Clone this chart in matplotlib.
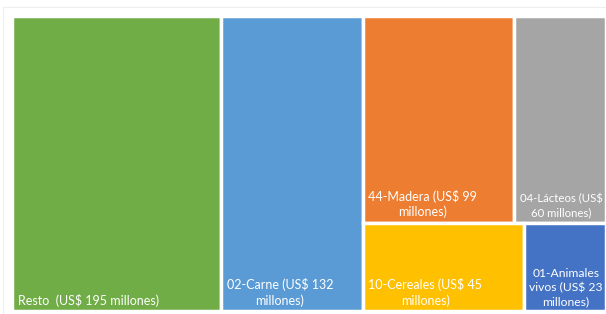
import matplotlib.pyplot as plt
from matplotlib.patches import Rectangle

# Datos del treemap (exportaciones, millones de US$)
etiquetas = [
    "Resto  (US$ 195 millones)",
    "02-Carne (US$ 132\nmillones)",
    "44-Madera (US$ 99\nmillones)",
    "04-Lácteos (US$\n60 millones)",
    "10-Cereales (US$ 45\nmillones)",
    "01-Animales\nvivos (US$ 23\nmillones)",
]
valores = [195, 132, 99, 60, 45, 23]
colores = ["#70AD47", "#5B9BD5", "#ED7D31", "#A5A5A5", "#FFC000", "#4472C4"]

plt.rcParams['font.family'] = ['Lato', 'DejaVu Sans']

fig = plt.figure(figsize=(6.06, 3.14), dpi=100)

# borde tenue del area del grafico
fig.add_artist(Rectangle((3 / 606, -0.1), 1.1, (307 + 31.4) / 314, transform=fig.transFigure,
                         fill=False, edgecolor='#EEEEEE', linewidth=0.8))

ax = fig.add_axes([12 / 606, 3 / 314, 1 - 12 / 606, 295 / 314])
ax.set_xlim(0, 1)
ax.set_ylim(0, 1)
ax.axis('off')

# Layout: dos columnas y luego una cuadricula 2x2 con el resto
total = sum(valores)
rects = []
x = 0
for v in valores[:2]:
    w = v / total
    rects.append((x, 0, w, 1))
    x += w
resto = sum(valores[2:])
ancho = 1 - x
y = 1
for fila in [valores[2:4], valores[4:6]]:
    h = sum(fila) / resto
    y -= h
    xx = x
    for v in fila:
        w = ancho * v / sum(fila)
        rects.append((xx, y, w, h))
        xx += w

textos = []
for (x0, y0, w, h), c, lab in zip(rects, colores, etiquetas):
    ax.add_patch(Rectangle((x0, y0), w, h, facecolor=c, edgecolor='white', linewidth=2.5))
    t = ax.annotate(lab, (x0, y0), xytext=(4, 3), textcoords='offset points',
                    ha='left', va='bottom', multialignment='center',
                    color='white', fontsize=9, linespacing=1.3)
    textos.append((t, w))

# reducir la letra si la etiqueta no cabe en su rectangulo
fig.canvas.draw()
r = fig.canvas.get_renderer()
px_por_x = ax.bbox.width
for t, w in textos:
    disponible = w * px_por_x - 9
    ancho_txt = t.get_window_extent(r).width
    if ancho_txt > disponible:
        t.set_fontsize(9 * disponible / ancho_txt)

fig.savefig('out.png', dpi=100)
